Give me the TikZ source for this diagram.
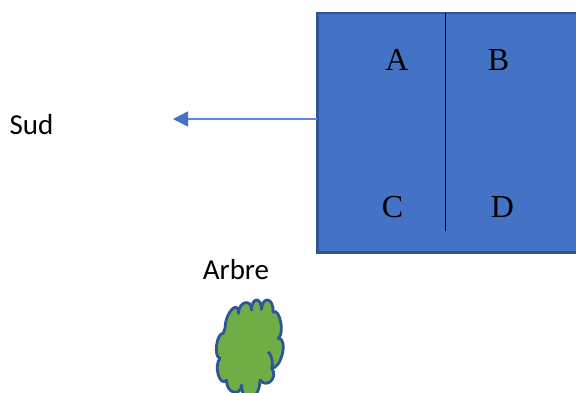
\documentclass[tikz,border=0pt]{standalone}
\usepackage{fontspec}
\setmainfont{Liberation Serif}
\newfontfamily\labelfont{Carlito}
\usetikzlibrary{arrows.meta}
\definecolor{boxfill}{HTML}{4472C4}
\definecolor{boxedge}{HTML}{2F5597}
\definecolor{arrowline}{HTML}{5B8BD6}
\definecolor{treefill}{HTML}{70AD47}
\tikzset{
  plain/.style={inner sep=0pt,text=black},
  room/.style={plain,font=\fontsize{32}{32}\selectfont},
  caption/.style={plain,font=\labelfont\fontsize{29}{29}\selectfont},
  edge/.style={draw=boxedge,line width=2.5pt,fill=boxfill,outer sep=0pt},
  tree/.style={draw=boxedge,line width=2.8pt,fill=treefill,line join=round},
}
\begin{document}
\begin{tikzpicture}[x=1pt,y=-1pt]
\useasboundingbox (0,0) rectangle (576,392);
\clip (0,0) rectangle (576,392);
\node[edge,minimum width=262pt,minimum height=239.5pt,inner sep=0pt,anchor=north west] (house) at (317.3,13) {};
\coordinate (divtop) at (445.5,13);
\coordinate (divbot) at (445.5,231);
\draw[black,line width=1.5pt] (divtop) -- (divbot);
\node[room] (a) at (397,60) {A};
\node[room] (b) at (498.5,60) {B};
\node[room] (c) at (392.5,207.5) {C};
\node[room] (d) at (502.5,207.5) {D};
\node[caption] (sud) at (31.5,125) {Sud};
\node[caption] (arbre) at (236,270) {Arbre};
\coordinate (south) at (173,119);
\draw[arrowline,line width=1.6pt,-{Triangle[length=15pt,width=15pt,fill=boxfill,color=boxfill]}] (house.west |- south) -- (south);
% tree
\draw[tree] (225,328)
  .. controls (225,313) and (238.5,298.5) .. (238.5,313.5)
  .. controls (238.5,301.5) and (251.5,298) .. (251.5,310)
  .. controls (251.5,297) and (261.5,296.5) .. (261.5,309.5)
  .. controls (262.5,295.2) and (274,297.7) .. (273,312)
  .. controls (279.7,307.4) and (285,333.7) .. (278.3,338.3)
  .. controls (288.3,338.3) and (281.7,368.3) .. (271.7,368.3)
  .. controls (278.6,377.4) and (266.9,389.1) .. (260,380)
  .. controls (260,400.7) and (241.7,405.7) .. (241.7,385)
  .. controls (240.5,397.7) and (225.5,392.7) .. (226.7,380)
  .. controls (220,387.8) and (213.3,366.1) .. (220,358.3)
  .. controls (213.3,357.3) and (216.6,332.3) .. (223.3,333.3)
  -- cycle;
\draw[tree,fill=none] (268.3,351.7) .. controls (273,358) and (273,364) .. (271.7,368.3);
\end{tikzpicture}
\end{document}
